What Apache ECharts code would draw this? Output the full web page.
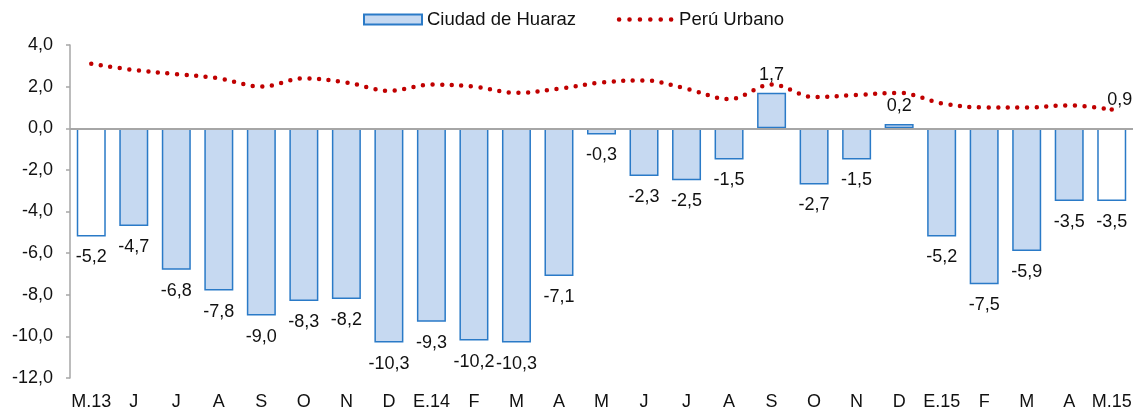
<!DOCTYPE html>
<html lang="es">
<head>
    <meta charset="UTF-8">
    <title>Ciudad de Huaraz vs Perú Urbano</title>
    <script src="https://cdn.jsdelivr.net/npm/echarts@6/dist/echarts.min.js"></script>
    <style>
        html, body { margin: 0; padding: 0; background: #fff; }
        #chart { width: 1135px; height: 414px; }
    </style>
</head>
<body>
<div id="chart"></div>
<script type="text/javascript">
    // meses, de M.13 a M.15
    var meses = ['M.13', 'J', 'J', 'A', 'S', 'O', 'N', 'D', 'E.14', 'F', 'M', 'A',
        'M', 'J', 'J', 'A', 'S', 'O', 'N', 'D', 'E.15', 'F', 'M', 'A', 'M.15'];
    var huaraz = [-5.2, -4.7, -6.8, -7.8, -9.0, -8.3, -8.2, -10.3, -9.3, -10.2, -10.3, -7.1,
        -0.3, -2.3, -2.5, -1.5, 1.7, -2.7, -1.5, 0.2, -5.2, -7.5, -5.9, -3.5, -3.5];
    var peruUrbano = [3.1, 2.8, 2.6, 2.4, 2.0, 2.4, 2.2, 1.8, 2.1, 2.0, 1.7, 1.9,
        2.2, 2.3, 1.9, 1.4, 2.1, 1.5, 1.6, 1.7, 1.2, 1.0, 1.0, 1.1, 0.9];
    var yTicks = [-12, 4, 2];   // min, max, intervalo

    var fuente = 'Liberation Sans, Arial, sans-serif';
    var coma = function (v) { return Number(v).toFixed(1).replace('.', ','); };

    // icono de leyenda: seis puntos (la caja 58x10 se marca con trazos nulos)
    var puntos = 'path://M0 0L0.01 0M58 10L57.99 10';
    for (var k = 0; k < 6; k++) {
        var cx = 3 + k * 10.4;
        puntos += 'M' + (cx - 2.3) + ' 5a2.3 2.3 0 1 0 4.6 0a2.3 2.3 0 1 0 -4.6 0';
    }

    // primera y ultima barra sin relleno
    var barras = huaraz.map(function (v, i) {
        var extremo = (i === 0 || i === huaraz.length - 1);
        return {
            value: v,
            itemStyle: extremo ? { color: '#ffffff' } : {},
            label: v < 0 ? { position: 'bottom', distance: 12 } : { position: 'top', distance: 9 }
        };
    });

    // solo el ultimo punto lleva etiqueta
    var linea = peruUrbano.map(function (v, i) {
        if (i === peruUrbano.length - 1) {
            return { value: v, symbol: 'circle', symbolSize: 4.5, label: { show: true } };
        }
        return v;
    });

    var chart = echarts.init(document.getElementById('chart'));
    chart.setOption({
        animation: false,
        textStyle: { fontFamily: fuente },
        legend: {
            top: 5,
            left: 358,
            itemWidth: 58,
            itemHeight: 10,
            itemGap: 40,
            textStyle: { fontSize: 18.5, color: '#111', fontFamily: fuente },
            data: [
                { name: 'Ciudad de Huaraz', icon: 'rect' },
                { name: 'Perú Urbano', icon: puntos }
            ]
        },
        grid: { left: 70, right: 2, top: 45, bottom: 36 },
        xAxis: {
            type: 'category',
            data: meses,
            axisLine: { show: false, onZero: false },
            axisTick: { show: false },
            axisLabel: { fontSize: 18, color: '#111', margin: 15, interval: 0 }
        },
        yAxis: {
            type: 'value',
            min: yTicks[0],
            max: yTicks[1],
            interval: yTicks[2],
            axisLine: { show: true, lineStyle: { color: '#a6a6a6', width: 1.5 } },
            axisTick: { show: true, length: 4, lineStyle: { color: '#a6a6a6', width: 1.5 } },
            splitLine: { show: false },
            axisLabel: { fontSize: 18, color: '#111', margin: 17, formatter: coma }
        },
        series: [
            {
                name: 'Ciudad de Huaraz',
                type: 'bar',
                barWidth: 29,
                data: barras,
                itemStyle: { color: '#c6d9f1', borderColor: '#2a7ac7', borderWidth: 1.5 },
                label: {
                    show: true,
                    fontSize: 18,
                    color: '#111',
                    formatter: function (p) { return coma(p.value); }
                },
                markLine: {
                    silent: true,
                    symbol: 'none',
                    label: { show: false },
                    lineStyle: { color: '#a6a6a6', width: 2, type: 'solid' },
                    data: [{ yAxis: 0 }]
                }
            },
            {
                name: 'Perú Urbano',
                type: 'line',
                data: linea,
                smooth: 0.35,
                symbol: 'none',
                z: 5,
                itemStyle: { color: '#c00000' },
                lineStyle: { color: '#c00000', width: 4.5, type: [0, 9.6], cap: 'round' },
                label: {
                    show: false,
                    position: 'top',
                    distance: 4,
                    offset: [8, 6],
                    fontSize: 18,
                    color: '#111',
                    formatter: function (p) { return coma(p.value); }
                }
            }
        ]
    });
</script>
</body>
</html>
